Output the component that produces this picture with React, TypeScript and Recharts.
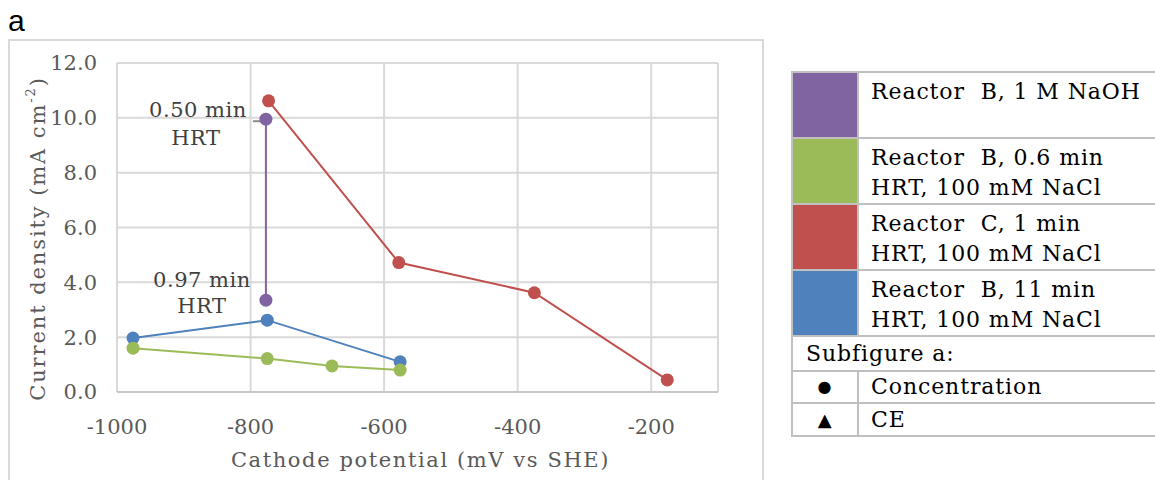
import { CartesianGrid, Label, Scatter, ScatterChart, XAxis, YAxis } from "recharts";

const xTicks = [-1000, -800, -600, -400, -200];
const yTicks = [0, 2, 4, 6, 8, 10, 12];

// Reactor B, 1 M NaOH
const naohX = [-777, -777];
const naohY = [9.95, 3.35];
const hrtNotes = ["0.50 min", "0.97 min"];
// Reactor B, 0.6 min HRT
const greenX = [-976, -775, -678, -576];
const greenY = [1.6, 1.22, 0.95, 0.8];
// Reactor C, 1 min HRT
const redX = [-773, -578, -375, -176];
const redY = [10.62, 4.72, 3.62, 0.44];
// Reactor B, 11 min HRT
const blueX = [-976, -775, -576];
const blueY = [1.97, 2.62, 1.1];

const legendNames = [
  ["Reactor  B, 1 M NaOH"],
  ["Reactor  B, 0.6 min", "HRT, 100 mM NaCl"],
  ["Reactor  C, 1 min", "HRT, 100 mM NaCl"],
  ["Reactor  B, 11 min", "HRT, 100 mM NaCl"],
];
const legendColors = ["#8064a2", "#9bbb59", "#c0504d", "#4f81bd"];
const rowHeights = [66, 65, 64, 66];

const SERIF = '"DejaVu Serif", serif';
const GREY = "#595959";

const pts = (xs: number[], ys: number[], notes?: string[]) =>
  xs.map((x, i) => ({ x, y: ys[i], note: notes ? notes[i] : undefined }));

const dot = (color: string) => (p: any) => {
  const { cx, cy, payload } = p;
  const first = payload?.note === hrtNotes[0];
  return (
    <g>
      {payload?.note && (
        <g fontFamily={SERIF} fontSize={21} letterSpacing={0.5} fill="#404040" textAnchor="middle">
          {first && <line x1={cx - 13} x2={cx - 4} y1={cy + 2} y2={cy + 2} stroke="#8c8c8c" strokeWidth={2} />}
          <text x={cx - (first ? 68 : 64)} y={cy + (first ? -9 : -20)} dominantBaseline="central">
            {payload.note}
          </text>
          <text x={cx - (first ? 70 : 64)} y={cy + (first ? 19 : 6)} dominantBaseline="central">
            HRT
          </text>
        </g>
      )}
      <circle cx={cx} cy={cy} r={6.5} fill={color} />
    </g>
  );
};

const yTitle = (props: any) => {
  const vb = props.viewBox;
  const cx = vb.x + 29;
  const cy = vb.y + vb.height / 2 + 11;
  return (
    <text
      x={cx}
      y={cy}
      transform={`rotate(-90, ${cx}, ${cy})`}
      textAnchor="middle"
      dominantBaseline="central"
      fontFamily={SERIF}
      fontSize={21}
      letterSpacing={1.9}
      fill={GREY}
    >
      Current density (mA cm
      <tspan baselineShift="super" fontSize={13}>-2</tspan>
      )
    </text>
  );
};

const xTitle = (props: any) => {
  const vb = props.viewBox;
  return (
    <text
      x={vb.x + vb.width / 2 + 3}
      y={vb.y + 68}
      textAnchor="middle"
      dominantBaseline="central"
      fontFamily={SERIF}
      fontSize={21}
      letterSpacing={1.6}
      fill={GREY}
    >
      Cathode potential (mV vs SHE)
    </text>
  );
};

const cell: React.CSSProperties = { border: "2px solid #c0c0c0", padding: 0 };

export default function App() {
  return (
    <div style={{ position: "absolute", left: 0, top: 0, width: 1155, height: 480, overflow: "hidden", background: "#fff" }}>
      <div style={{ position: "absolute", left: 8, top: 4, fontFamily: '"Liberation Sans", sans-serif', fontSize: 30, color: "#000" }}>a</div>
      <div style={{ position: "absolute", left: 8, top: 39, width: 756, height: 470, border: "2px solid #d9d9d9", boxSizing: "border-box" }} />
      <div style={{ position: "absolute", left: 9, top: 40 }}>
        <ScatterChart width={754} height={440} margin={{ top: 23, right: 45, left: 0, bottom: 0 }}>
          <CartesianGrid stroke="#d9d9d9" strokeWidth={2} />
          <XAxis
            type="number"
            dataKey="x"
            domain={[-1000, -100]}
            ticks={xTicks}
            tickLine={false}
            tickSize={0}
            tickMargin={27}
            height={88}
            axisLine={{ stroke: "#c8c8c8", strokeWidth: 2 }}
            tick={{ fill: GREY, fontSize: 21, fontFamily: SERIF }}
          >
            <Label content={xTitle} />
          </XAxis>
          <YAxis
            type="number"
            dataKey="y"
            domain={[0, 12]}
            ticks={yTicks}
            width={108}
            tickLine={false}
            axisLine={false}
            tickSize={0}
            tickMargin={20}
            tickFormatter={(v) => Number(v).toFixed(1)}
            tick={{ fill: GREY, fontSize: 21, fontFamily: SERIF }}
          >
            <Label content={yTitle} />
          </YAxis>
          <Scatter data={pts(blueX, blueY)} line={{ stroke: "#4f81bd", strokeWidth: 2 }} shape={dot("#4f81bd")} isAnimationActive={false} />
          <Scatter data={pts(greenX, greenY)} line={{ stroke: "#9bbb59", strokeWidth: 2 }} shape={dot("#9bbb59")} isAnimationActive={false} />
          <Scatter data={pts(redX, redY)} line={{ stroke: "#c0504d", strokeWidth: 2 }} shape={dot("#c0504d")} isAnimationActive={false} />
          <Scatter data={pts(naohX, naohY, hrtNotes)} line={{ stroke: "#8064a2", strokeWidth: 2 }} shape={dot("#8064a2")} isAnimationActive={false} />
        </ScatterChart>
      </div>
      <table
        style={{
          position: "absolute",
          left: 791,
          top: 71,
          width: 440,
          borderCollapse: "collapse",
          fontFamily: SERIF,
          fontSize: 22,
          letterSpacing: 0.9,
          color: "#000",
          lineHeight: "30px",
        }}
      >
        <tbody>
          {legendNames.map((lines, i) => (
            <tr key={i} style={{ height: rowHeights[i] }}>
              <td style={{ ...cell, width: 64, background: legendColors[i] }} />
              <td style={{ ...cell, verticalAlign: "top", paddingLeft: 12, paddingTop: 4, whiteSpace: "pre" }}>
                {lines.join("\n")}
              </td>
            </tr>
          ))}
          <tr style={{ height: 35 }}>
            <td colSpan={2} style={{ ...cell, paddingLeft: 13 }}>Subfigure a:</td>
          </tr>
          <tr style={{ height: 32 }}>
            <td style={{ ...cell, textAlign: "center", fontSize: 16 }}>●</td>
            <td style={{ ...cell, paddingLeft: 12 }}>Concentration</td>
          </tr>
          <tr style={{ height: 33 }}>
            <td style={{ ...cell, textAlign: "center", fontSize: 18 }}>▲</td>
            <td style={{ ...cell, paddingLeft: 12 }}>CE</td>
          </tr>
        </tbody>
      </table>
    </div>
  );
}
